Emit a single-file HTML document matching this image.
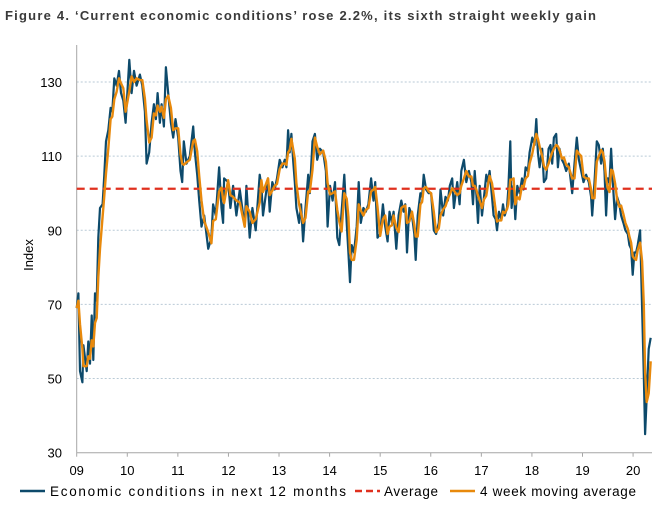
<!DOCTYPE html>
<html><head><meta charset="utf-8"><style>
body{margin:0;width:660px;height:507px;background:#fff;overflow:hidden;font-family:"Liberation Sans",sans-serif}
svg{display:block}
</style></head><body>
<svg id="chart" width="660" height="507">
<text x="5" y="20" font-size="13" font-weight="bold" fill="#3a3a3a" textLength="591" lengthAdjust="spacing">Figure 4. ‘Current economic conditions’ rose 2.2%, its sixth straight weekly gain</text>
<text transform="translate(33,255) rotate(-90)" text-anchor="middle" font-size="13" fill="#000">Index</text>
<g id="grid"></g><g id="axes"></g><g id="series"></g>
<g>
<line x1="20" y1="491" x2="45" y2="491" stroke="#0d4a6b" stroke-width="2.5"/>
<text x="50" y="496" font-size="13.5" fill="#000" textLength="296" lengthAdjust="spacing">Economic conditions in next 12 months</text>
<line x1="355" y1="491" x2="380" y2="491" stroke="#e0301e" stroke-width="2.5" stroke-dasharray="7,4"/>
<text x="384" y="496" font-size="13.5" fill="#000" textLength="54" lengthAdjust="spacing">Average</text>
<line x1="450" y1="491" x2="475" y2="491" stroke="#e8890c" stroke-width="2.5"/>
<text x="480" y="496" font-size="13.5" fill="#000" textLength="156" lengthAdjust="spacing">4 week moving average</text>
</g>
</svg>
<script>
const dates=[2009.000,2009.033,2009.066,2009.112,2009.132,2009.197,2009.230,2009.263,2009.296,2009.329,2009.362,2009.395,2009.428,2009.461,2009.513,2009.546,2009.579,2009.625,2009.671,2009.704,2009.743,2009.789,2009.836,2009.875,2009.921,2009.967,2010.039,2010.086,2010.132,2010.184,2010.250,2010.296,2010.349,2010.382,2010.434,2010.480,2010.526,2010.566,2010.599,2010.645,2010.678,2010.724,2010.763,2010.809,2010.862,2010.908,2010.954,2011.007,2011.053,2011.086,2011.118,2011.171,2011.237,2011.303,2011.336,2011.382,2011.421,2011.467,2011.520,2011.599,2011.664,2011.697,2011.750,2011.816,2011.862,2011.895,2011.914,2011.993,2012.039,2012.092,2012.158,2012.224,2012.322,2012.355,2012.421,2012.474,2012.539,2012.618,2012.651,2012.684,2012.783,
2012.815,2012.868,2012.914,2012.960,2013.013,2013.066,2013.113,2013.146,2013.179,2013.212,2013.245,2013.278,2013.311,2013.344,2013.397,2013.437,2013.477,2013.523,2013.576,2013.609,2013.662,2013.709,2013.755,2013.808,2013.874,2013.927,2013.960,2014.007,2014.060,2014.106,2014.152,2014.192,2014.238,2014.291,2014.338,2014.371,2014.404,2014.437,2014.483,2014.536,2014.576,2014.616,2014.669,2014.715,2014.768,2014.821,2014.868,2014.901,2014.947,2015.000,2015.053,2015.099,2015.146,2015.185,2015.232,2015.265,2015.318,2015.364,2015.417,2015.464,2015.497,2015.530,2015.576,2015.629,2015.675,2015.702,2015.742,2015.795,2015.828,2015.861,2015.907,2015.960,2016.007,2016.060,2016.106,2016.159,2016.192,2016.245,2016.291,2016.338,2016.377,2016.424,2016.457,2016.523,2016.570,2016.603,2016.656,2016.702,2016.755,
2016.803,2016.836,2016.868,2016.901,2016.934,2016.967,2017.013,2017.053,2017.099,2017.132,2017.164,2017.211,2017.243,2017.283,2017.309,2017.349,2017.395,2017.428,2017.461,2017.507,2017.533,2017.572,2017.599,2017.638,2017.671,2017.711,2017.757,2017.803,2017.836,2017.875,2017.921,2017.954,2018.007,2018.053,2018.086,2018.118,2018.151,2018.204,2018.237,2018.283,2018.329,2018.368,2018.401,2018.434,2018.480,2018.513,2018.546,2018.592,2018.632,2018.678,2018.730,2018.796,2018.842,2018.888,2018.928,2018.974,2019.020,2019.072,2019.125,2019.171,2019.191,2019.237,2019.283,2019.322,2019.368,2019.401,2019.434,2019.467,2019.500,2019.533,2019.566,2019.599,2019.645,2019.684,2019.730,2019.763,2019.809,2019.849,2019.895,2019.928,2019.961,2019.993,2020.026,2020.059,2020.092,2020.138,2020.178,2020.211,2020.237,2020.270,2020.309,2020.349];
const values=[69,73,52,49,59,52,60,54,67,55,73,71,88,96,97,105,114,117,123,122,131,129,133,127,125,119,136,127,133,129,132,129,122,108,111,119,124,120,127,119,124,118,134,127,119,115,120,115,106,103,114,108,110,118,111,105,98,91,94,85,88,97,94,107,96,92,104,103,96,102,94,101,91,102,88,96,90,105,102,94,104,
95,103,101,104,109,107,109,107,117,111,116,109,103,96,92,97,87,96,105,100,114,116,109,112,111,106,91,102,98,103,88,86,95,105,92,84,76,86,84,91,103,92,96,95,97,104,98,103,88,89,97,91,87,95,92,95,85,94,98,95,97,84,96,94,89,82,94,100,99,105,101,100,100,90,89,92,101,94,99,98,102,104,96,103,97,106,109,103,106,
103,97,106,100,92,102,94,99,105,103,106,99,94,93,90,95,93,97,94,96,101,114,96,102,93,102,100,104,101,107,106,111,115,113,120,111,107,112,103,104,112,113,108,115,116,107,112,109,108,106,108,100,108,115,109,106,103,105,103,99,94,103,114,113,108,112,106,94,104,103,112,103,93,99,97,94,92,90,89,86,85,78,84,84,86,90,69,51,35,45,58,61];
const average=101.2;
const yTicks=[30,50,70,90,110,130];
const xTickYears=[2009,2010,2011,2012,2013,2014,2015,2016,2017,2018,2019,2020];
const xTickLabels=["09","10","11","12","13","14","15","16","17","18","19","20"];
const maWindow=0.09;

const NS="http://www.w3.org/2000/svg";
const X0=76.7,PX_YR=50.58,Y0=452.7,PX_U=3.707;
function xs(t){return X0+(t-2009)*PX_YR;}
function ys(v){return Y0-(v-30)*PX_U;}
function mk(tag,attrs,parent){const e=document.createElementNS(NS,tag);for(const k in attrs)e.setAttribute(k,attrs[k]);parent.appendChild(e);return e;}
const grid=document.getElementById('grid'),axes=document.getElementById('axes'),ser=document.getElementById('series');
yTicks.forEach(v=>{
  if(v>30){const g=mk('line',{x1:X0,x2:652,y1:ys(v),y2:ys(v),stroke:'#b9cad6','stroke-width':1,'stroke-dasharray':'2,2'},grid);
  
  }
  const t=mk('text',{x:62,y:ys(v)+5,'text-anchor':'end','font-size':13,fill:'#000'},axes);t.textContent=v;
  
  
});
const ya=mk('line',{x1:X0,x2:X0,y1:45,y2:Y0,stroke:'#a6a6a6','stroke-width':1},axes);


const xa=mk('line',{x1:X0,x2:652,y1:Y0,y2:Y0,stroke:'#a6a6a6','stroke-width':1},axes);


xTickYears.forEach((yr,i)=>{
  mk('line',{x1:xs(yr),x2:xs(yr),y1:Y0,y2:Y0+4,stroke:'#a6a6a6'},axes);
  const t=mk('text',{x:xs(yr),y:475,'text-anchor':'middle','font-size':13,fill:'#000'},axes);t.textContent=xTickLabels[i];
  
  
});
let d='';dates.forEach((t,i)=>{d+=(i?'L':'M')+xs(t).toFixed(1)+' '+ys(values[i]).toFixed(1);});
const raw=mk('path',{d:d,fill:'none',stroke:'#0d4a6b','stroke-width':2.2,'stroke-linejoin':'round'},ser);


const avg=mk('line',{x1:X0,x2:652,y1:ys(average),y2:ys(average),stroke:'#e0301e','stroke-width':2.2,'stroke-dasharray':'8,5'},ser);


let dm='';dates.forEach((t,i)=>{let s=0,n=0;for(let j=i;j>=0&&t-dates[j]<=maWindow;j--){s+=values[j];n++;}
  dm+=(i?'L':'M')+xs(t).toFixed(1)+' '+ys(s/n).toFixed(1);});
const ma=mk('path',{d:dm,fill:'none',stroke:'#e8890c','stroke-width':2.4,'stroke-linejoin':'round'},ser);


</script>
</body></html>
